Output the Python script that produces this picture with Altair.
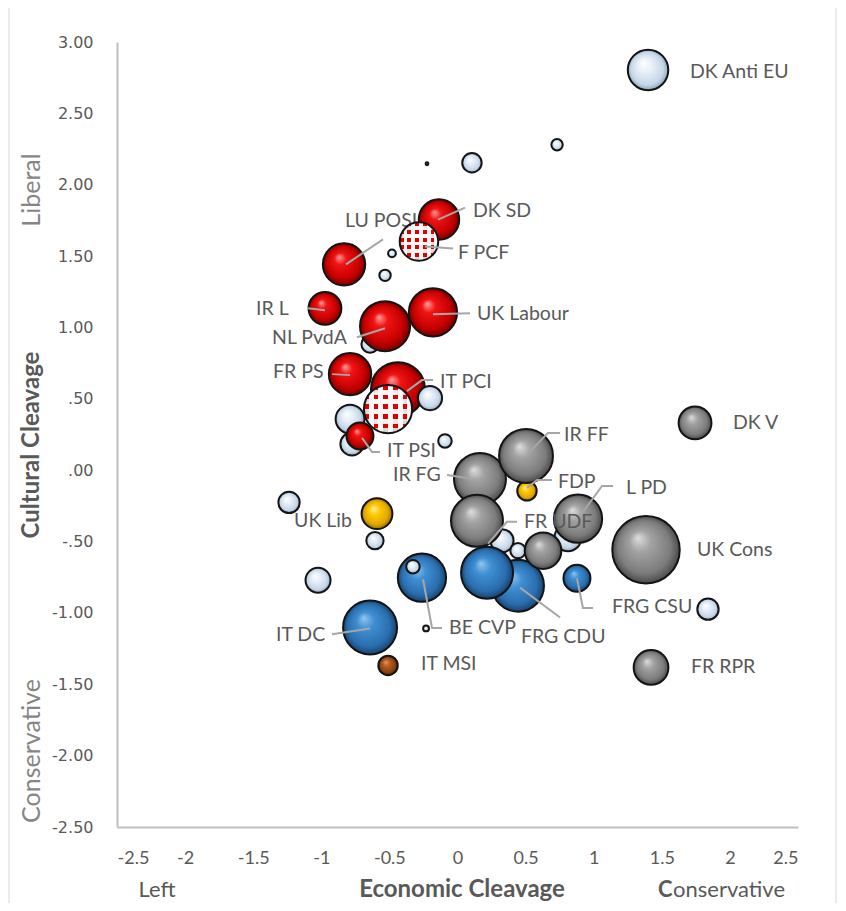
import altair as alt
import pandas as pd

# ---------------- data ----------------
bubble_group = (["lightblue"] * 18 + ["yellow"] * 2 + ["brown"] + ["blue"] * 5 +
                ["red"] * 8 + ["checker"] * 2 + ["lightfront"] * 2 + ["gray"] * 8)
bubble_party = ["DK Anti EU", "", "", "", "", "", "", "", "", "", "", "", "", "", "", "", "", "",
                "FDP", "UK Lib",
                "IT MSI",
                "FRG CSU", "FRG CDU", "", "BE CVP", "IT DC",
                "DK SD", "LU POSL", "IR L", "NL PvdA", "UK Labour", "FR PS", "IT PCI", "IT PSI",
                "F PCF", "",
                "", "",
                "IR FG", "IR FF", "FR UDF", "L PD", "", "UK Cons", "DK V", "FR RPR"]
bubble_econ = [1.399, -0.224, 0.106, 0.731, -0.481, -0.532, -0.642, -0.789, -0.775, -0.092,
               0.811, 0.327, 0.444, 1.839, -0.606, -1.237, -1.024, -0.231,
               0.510, -0.591,
               -0.510,
               0.877, 0.444, 0.217, -0.261, -0.642,
               -0.136, -0.833, -0.973, -0.532, -0.180, -0.789, -0.437, -0.716,
               -0.283, -0.510,
               -0.202, -0.327,
               0.165, 0.503, 0.143, 0.885, 0.628, 1.384, 1.744, 1.421]
bubble_cult = [2.804, 2.147, 2.154, 2.280, 1.519, 1.365, 0.883, 0.358, 0.184, 0.205,
               -0.473, -0.494, -0.564, -0.974, -0.494, -0.226, -0.771, -1.109,
               -0.145, -0.305,
               -1.368,
               -0.757, -0.809, -0.718, -0.753, -1.102,
               1.756, 1.442, 1.134, 1.009, 1.106, 0.673, 0.568, 0.240,
               1.602, 0.428,
               0.505, -0.676,
               -0.061, 0.100, -0.355, -0.340, -0.564, -0.557, 0.331, -1.382]
bubble_size = [12.6, 0.06, 2.9, 1.0, 0.46, 1.0, 2.3, 6.4, 4.1, 1.4,
               5.6, 4.1, 1.8, 3.5, 2.3, 3.5, 4.8, 0.26,
               2.9, 7.3,
               2.9,
               5.6, 20.8, 20.8, 17.9, 22.4,
               12.6, 13.8, 8.3, 19.3, 17.9, 13.8, 22.4, 5.6,
               11.4, 17.9,
               4.5, 1.4,
               20.8, 22.4, 20.8, 17.9, 10.3, 35.0, 8.3, 9.3]

label_text = ["DK Anti EU", "DK SD", "LU POSL", "F PCF", "IR L", "NL PvdA", "UK Labour",
              "FR PS", "IT PCI", "IT PSI", "IR FF", "IR FG", "FDP", "L PD", "FR UDF",
              "UK Lib", "UK Cons", "FRG CSU", "BE CVP", "FRG CDU", "IT DC", "IT MSI",
              "DK V", "FR RPR"]
label_econ = [1.707, 0.114, -0.826, 0.004, -1.479, -1.362, 0.143,
              -1.355, -0.128, -0.518, 0.782, -0.474, 0.738, 1.237, 0.488,
              -1.200, 1.758, 1.134, -0.062, 0.466, -1.333, -0.268,
              2.023, 1.714]
label_cult = [2.792, 1.819, 1.749, 1.524, 1.127, 0.924, 1.092,
              0.687, 0.618, 0.135, 0.247, -0.033, -0.082, -0.124, -0.362,
              -0.355, -0.561, -0.960, -1.109, -1.171, -1.158, -1.360,
              0.331, -1.381]

leader_id = ["DK SD", "DK SD", "LU POSL", "LU POSL", "F PCF", "F PCF", "IR L", "IR L",
             "NL PvdA", "NL PvdA", "UK Labour", "UK Labour", "FR PS", "FR PS",
             "IT PCI", "IT PCI", "IT PCI", "IT PSI", "IT PSI", "IT PSI",
             "IR FG", "IR FG", "IR FF", "IR FF", "IR FF", "FDP", "FDP", "FDP",
             "L PD", "L PD", "L PD", "FR UDF", "FR UDF", "FR UDF",
             "FRG CSU", "FRG CSU", "FRG CSU", "BE CVP", "BE CVP", "BE CVP",
             "FRG CDU", "FRG CDU", "IT DC", "IT DC"]
leader_econ = [-0.143, 0.055, -0.819, -0.547, -0.239, -0.033, -1.098, -0.973,
               -0.738, -0.532, -0.180, 0.092, -0.921, -0.789,
               -0.371, -0.261, -0.180, -0.701, -0.628, -0.569,
               -0.077, 0.165, 0.503, 0.664, 0.753, 0.510, 0.584, 0.694,
               0.885, 1.061, 1.142, 0.224, 0.363, 0.437,
               0.877, 0.921, 0.995, -0.253, -0.187, -0.114,
               0.459, 0.753, -0.921, -0.642]
leader_cult = [1.756, 1.840, 1.442, 1.617, 1.567, 1.553, 1.134, 1.120,
               0.931, 0.994, 1.092, 1.099, 0.673, 0.666,
               0.554, 0.631, 0.631, 0.226, 0.128, 0.128,
               -0.033, -0.068, 0.100, 0.261, 0.261, -0.124, -0.068, -0.068,
               -0.340, -0.110, -0.110, -0.515, -0.362, -0.362,
               -0.757, -0.966, -0.966, -0.764, -1.106, -1.106,
               -0.823, -1.032, -1.150, -1.109]

x_ticks = [-2.5, -2, -1.5, -1, -0.5, 0, 0.5, 1, 1.5, 2, 2.5]
y_ticks = [3.0, 2.5, 2.0, 1.5, 1.0, 0.5, 0.0, -0.5, -1.0, -1.5, -2.0, -2.5]

# ---------------- tables ----------------
bubbles = pd.DataFrame({"group": bubble_group, "party": bubble_party,
                        "econ": bubble_econ, "cult": bubble_cult, "share": bubble_size})
labels = pd.DataFrame({"text": label_text, "econ": label_econ, "cult": label_cult})
leaders = pd.DataFrame({"lid": leader_id, "econ": leader_econ, "cult": leader_cult,
                        "seq": list(range(len(leader_id)))})

# ---------------- styles ----------------
TXT = "#595959"
SIDE = "#858585"
xs = alt.Scale(domain=[-2.5, 2.5], nice=False, zero=False)
ys = alt.Scale(domain=[-2.5, 3.0], nice=False, zero=False)
ss = alt.Scale(domain=[0, 40], range=[0, 5200], zero=True)

xaxis = alt.Axis(values=x_ticks, labelExpr="datum.value + ''", grid=False, ticks=False,
                 domainColor="#bfbfbf", domainWidth=2, labelFont="Lato", labelFontSize=18,
                 labelColor=TXT, labelPadding=22)
yaxis = alt.Axis(values=y_ticks,
                 labelExpr="(datum.value < 0 ? '-' : '') + (abs(datum.value) < 1 ? "
                           "substring(format(abs(datum.value), '.2f'), 1) : "
                           "format(abs(datum.value), '.2f'))",
                 grid=False, ticks=False, domainColor="#bfbfbf", domainWidth=2,
                 labelFont="DejaVu Sans", labelFontSize=16, labelColor=TXT, labelPadding=24)

X = alt.X("econ:Q", scale=xs, axis=xaxis, title="")
Y = alt.Y("cult:Q", scale=ys, axis=yaxis, title="")
S = alt.Size("share:Q", scale=ss, legend=None)


def radial(stops):
    return {"gradient": "radial", "x1": 0.38, "y1": 0.32, "r1": 0,
            "x2": 0.5, "y2": 0.5, "r2": 0.5,
            "stops": [{"offset": o, "color": c} for o, c in stops]}


grads = {
    "lightblue": radial([(0, "#ffffff"), (0.35, "#e8f0f8"), (0.8, "#c6d7e8"), (1, "#8ea6be")]),
    "yellow": radial([(0, "#fff3a8"), (0.35, "#ffc800"), (0.78, "#e0a800"), (1, "#9a6c00")]),
    "brown": radial([(0, "#e59a68"), (0.35, "#b85e22"), (0.78, "#8a4212"), (1, "#552506")]),
    "blue": radial([(0, "#93c6ef"), (0.32, "#3f8fd3"), (0.78, "#2a6eae"), (1, "#17436f")]),
    "red": radial([(0, "#ffa0a0"), (0.28, "#f01414"), (0.75, "#c80000"), (1, "#760000")]),
    "gray": radial([(0, "#dedede"), (0.32, "#a2a2a2"), (0.78, "#7c7c7c"), (1, "#4a4a4a")]),
}


def stripes(vertical, color_on, n=5):
    stops = []
    clear = "rgba(255,255,255,0)"
    for i in range(n):
        a, m, b = i / n, (i + 0.5) / n, (i + 1) / n
        if vertical:
            stops += [(a, clear), (m, clear), (m, color_on), (b, color_on)]
        else:
            stops += [(a, color_on), (m, color_on), (m, clear), (b, clear)]
    return {"gradient": "linear", "x1": 0, "y1": 0,
            "x2": 1 if vertical else 0, "y2": 0 if vertical else 1,
            "stops": [{"offset": o, "color": c} for o, c in stops]}


base = alt.Chart(bubbles)


def bubble_layer(group, fill, stroke=True):
    kw = dict(fill=fill, opacity=1)
    if stroke:
        kw.update(stroke="#141414", strokeWidth=2)
    else:
        kw.update(strokeWidth=0)
    return base.transform_filter(alt.datum.group == group).mark_circle(**kw).encode(x=X, y=Y, size=S)


def label_layer(keep_under):
    cond = (alt.datum.text == "LU POSL") if keep_under else (alt.datum.text != "LU POSL")
    return alt.Chart(labels).transform_filter(cond).mark_text(
        align="left", baseline="middle", font="Lato", fontSize=19.5, color=TXT
    ).encode(x=X, y=Y, text="text:N")


lead = alt.Chart(leaders).mark_line(color="#a6a6a6", strokeWidth=2).encode(
    x=X, y=Y, detail="lid:N", order="seq:Q")

layers = [
    bubble_layer("lightblue", grads["lightblue"]),
    bubble_layer("yellow", grads["yellow"]),
    bubble_layer("brown", grads["brown"]),
    bubble_layer("blue", grads["blue"]),
    bubble_layer("red", grads["red"]),
    label_layer(True),
    bubble_layer("checker", radial([(0, "#ffffff"), (0.6, "#f6f6f6"), (1, "#cfcfcf")]), stroke=False),
    bubble_layer("checker", stripes(False, "#e00000"), stroke=False),
    bubble_layer("checker", stripes(True, "#f8f8f8")),
    bubble_layer("lightfront", grads["lightblue"]),
    bubble_layer("gray", grads["gray"]),
    lead,
    label_layer(False),
]


def note(txt, px, py, **kw):
    return alt.Chart(alt.Data(values=[{"a": 1}])).mark_text(**kw).encode(
        x=alt.value(px), y=alt.value(py), text=alt.value(txt))


BOT = 855
notes = [
    note("Left", 40, BOT, font="Lato", fontSize=22, color=TXT, align="center", baseline="alphabetic"),
    note("Economic Cleavage", 345, BOT, font="Lato", fontSize=24, fontWeight="bold", color=TXT,
         align="center", baseline="alphabetic"),
    note("C", 541, BOT, font="Lato", fontSize=22, fontWeight="bold", color=TXT,
         align="left", baseline="alphabetic"),
    note("onservative", 556, BOT, font="Lato", fontSize=22, color=TXT,
         align="left", baseline="alphabetic"),
    note("Cultural Cleavage", -85, 403, font="Lato", fontSize=24, fontWeight="bold", color=TXT,
         align="center", baseline="middle", angle=270),
    note("Liberal", -85, 148, font="Lato", fontSize=25, color=SIDE,
         align="center", baseline="middle", angle=270),
    note("Conservative", -85, 709, font="Lato", fontSize=25, color=SIDE,
         align="center", baseline="middle", angle=270),
]

frame = alt.Chart(alt.Data(values=[{"a": 1}])).mark_rect(
    fillOpacity=0, stroke="#d9d9d9", strokeWidth=1).encode(
    x=alt.value(-108), x2=alt.value(719), y=alt.value(-35), y2=alt.value(868))

chart = alt.layer(*layers, *notes, frame).properties(
    width=681, height=785,
    autosize=alt.AutoSizeParams(type="none"),
    padding={"left": 109, "top": 34, "right": 39, "bottom": 76},
    background="white",
).configure_view(strokeWidth=0)

chart.save("out.html", embed_options={"renderer": "svg", "actions": False})
